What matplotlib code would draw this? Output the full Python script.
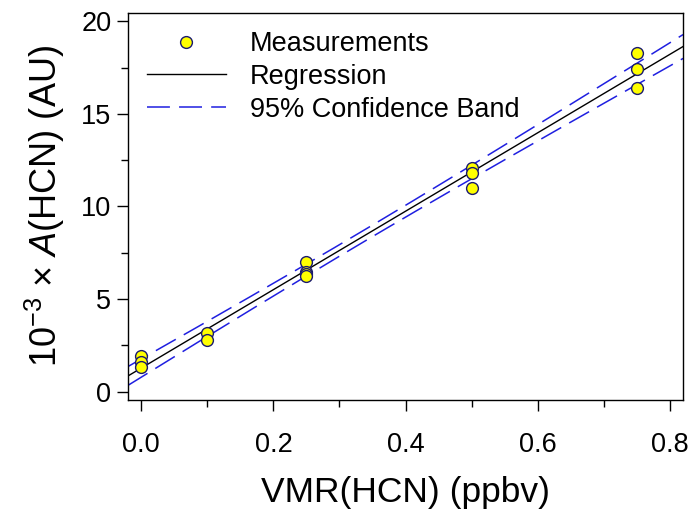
import numpy as np
import matplotlib
matplotlib.use('Agg')
import matplotlib.pyplot as plt
from matplotlib.ticker import MultipleLocator

plt.rcParams['font.family'] = ['Liberation Sans', 'DejaVu Sans']
plt.rcParams['mathtext.fontset'] = 'custom'
plt.rcParams['mathtext.rm'] = 'Liberation Sans'
plt.rcParams['mathtext.it'] = 'Liberation Sans:italic'

vmr = [0.0, 0.0, 0.0,
       0.1, 0.1,
       0.25, 0.25, 0.25, 0.25,
       0.5, 0.5, 0.5,
       0.75, 0.75, 0.75]
area = [1.9, 1.6, 1.35,
        3.18, 2.8,
        7.0, 6.45, 6.35, 6.25,
        12.1, 11.8, 11.0,
        18.3, 17.4, 16.4]

x = np.array(vmr)
y = np.array(area)

# linear regression and 95% confidence band
slope, intercept = np.polyfit(x, y, 1)
n = len(x)
resid = y - (slope * x + intercept)
s = np.sqrt(np.sum(resid ** 2) / (n - 2))
t_val = 2.160  # t(0.975, 13)
xx = np.linspace(-0.02, 0.82, 200)
yy = slope * xx + intercept
se = s * np.sqrt(1.0 / n + (xx - x.mean()) ** 2 / np.sum((x - x.mean()) ** 2))

fig = plt.figure(figsize=(6.93, 5.14), dpi=100)
ax = fig.add_axes([0.1847, 0.222, 0.801, 0.7527])

ax.plot(x, y, 'o', ms=8.5, mfc='#ffff00', mec='#1a1a6e', mew=1.0,
        label='Measurements', zorder=3)
ax.plot(xx, yy, color='black', lw=1.0, label='Regression', zorder=2)
ax.plot(xx, yy + t_val * se, color='#1f1fe0', lw=1.1, dashes=(15, 6),
        label='95% Confidence Band', zorder=2)
ax.plot(xx, yy - t_val * se, color='#1f1fe0', lw=1.1, dashes=(15, 6), zorder=2)

ax.set_xlim(-0.02, 0.82)
ax.set_ylim(-0.45, 20.45)
ax.xaxis.set_minor_locator(MultipleLocator(0.1))
ax.yaxis.set_major_locator(MultipleLocator(5))
ax.yaxis.set_minor_locator(MultipleLocator(2.5))
ax.set_xticks([0.0, 0.2, 0.4, 0.6, 0.8])
ax.set_xticklabels(['0.0', '0.2', '0.4', '0.6', '0.8'])
ax.tick_params(which='major', direction='out', length=8, width=1, labelsize=19.5,
               top=False, right=False)
ax.tick_params(which='minor', direction='out', length=5, width=1,
               top=False, right=False)
ax.tick_params(axis='x', which='major', pad=15)
ax.tick_params(axis='y', which='major', pad=4)
for sp in ax.spines.values():
    sp.set_linewidth(1.0)

ax.set_xlabel('VMR(HCN) (ppbv)', fontsize=25.5, labelpad=13)
ax.set_ylabel(r'$10^{-3}$ × $\mathit{A}$(HCN) (AU)', fontsize=26, labelpad=10)

ax.legend(loc='upper left', frameon=False, fontsize=19.5, handlelength=2.9,
          handletextpad=0.9, labelspacing=0.25, borderaxespad=0.2,
          bbox_to_anchor=(0.005, 0.995))

fig.savefig('out.png', dpi=100)
